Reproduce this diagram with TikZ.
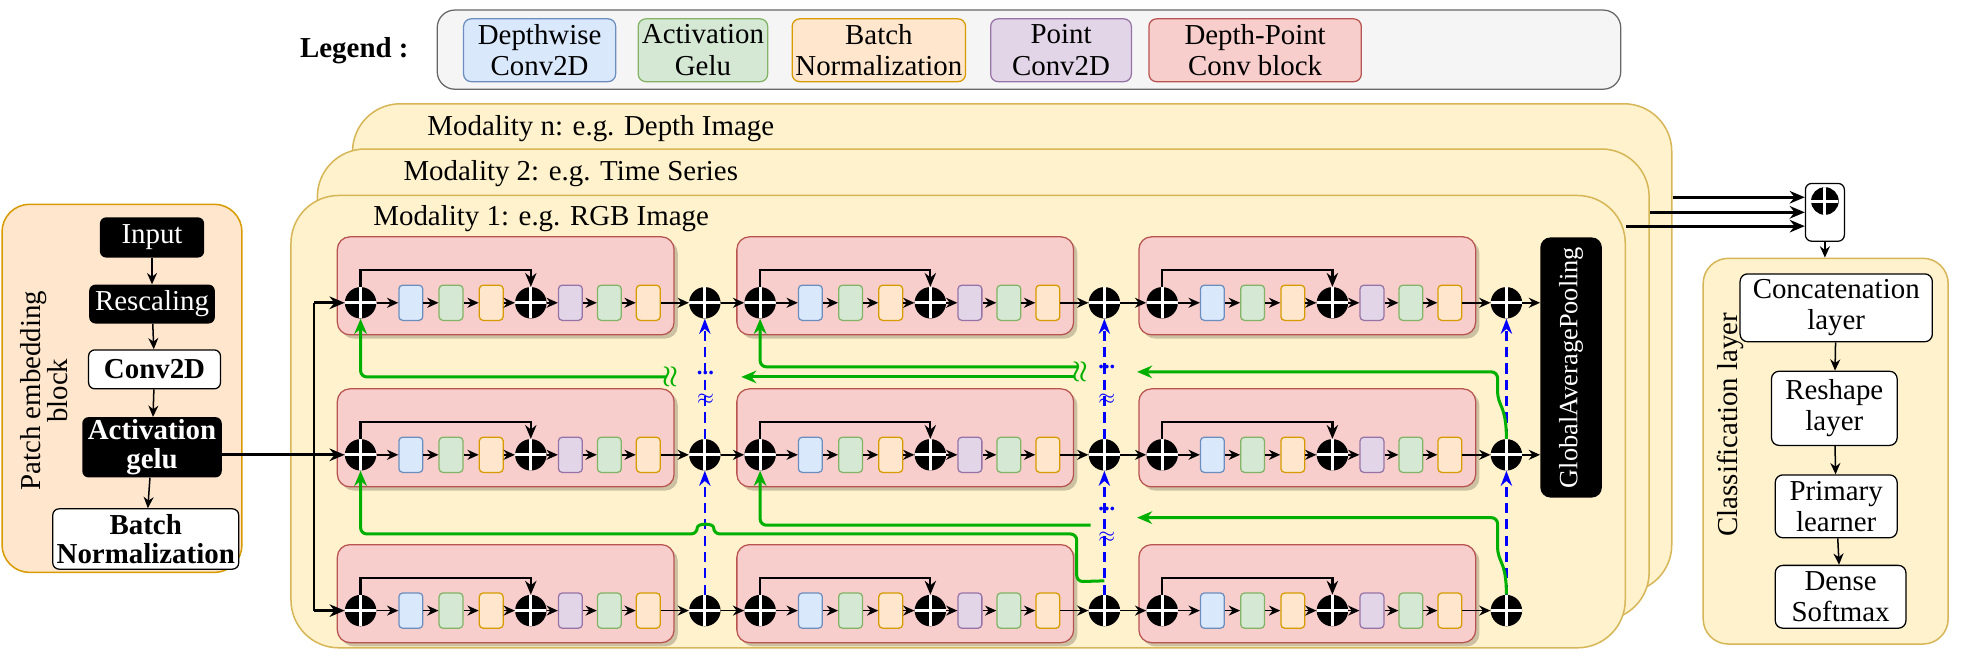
\documentclass[tikz,border=0pt]{standalone}
\usepackage{fontspec}
\setmainfont{Liberation Serif}
\usetikzlibrary{positioning,arrows.meta,shadows}

\definecolor{dwfill}{HTML}{DAE8FC}\definecolor{dwline}{HTML}{6C8EBF}
\definecolor{gefill}{HTML}{D5E8D4}\definecolor{geline}{HTML}{82B366}
\definecolor{bnfill}{HTML}{FFE6CC}\definecolor{bnline}{HTML}{D79B00}
\definecolor{pwfill}{HTML}{E1D5E7}\definecolor{pwline}{HTML}{9673A6}
\definecolor{dpfill}{HTML}{F8CECC}\definecolor{dpline}{HTML}{B85450}
\definecolor{modfill}{HTML}{FFF2CC}\definecolor{modline}{HTML}{D6B656}
\definecolor{legfill}{HTML}{F5F5F5}\definecolor{legline}{HTML}{666666}
\definecolor{skipgreen}{HTML}{00B000}

\begin{document}
\begin{tikzpicture}[%
    x=1pt, y=-1pt,               % pixel-like units, y grows downwards
    >={Stealth[length=9pt,width=8pt]},
    node distance=32pt,
    ]
\useasboundingbox (0,0) rectangle (1568,522);
% -------------------------------------------------
% Box styles
\tikzset{
  txt/.style={font=\fontsize{23}{25}\selectfont, align=center},
  btxt/.style={font=\bfseries\fontsize{23}{25}\selectfont, align=center},
  lbl/.style={txt, inner sep=0pt, anchor=west},
  % small layer cells inside a Depth-Point Conv block
  cell/.style={draw, rounded corners=3pt, line width=1pt, minimum width=19pt,
    minimum height=28pt, inner sep=0pt, on grid},
  dw/.style={cell, fill=dwfill, draw=dwline},
  ge/.style={cell, fill=gefill, draw=geline},
  bn/.style={cell, fill=bnfill, draw=bnline},
  pw/.style={cell, fill=pwfill, draw=pwline},
  adder/.style={circle, fill=black, minimum size=25pt, inner sep=0pt, on grid,
    path picture={\draw[white, line width=2.4pt]
      (path picture bounding box.north) -- (path picture bounding box.south)
      (path picture bounding box.west) -- (path picture bounding box.east);}},
  dpblock/.style={draw=dpline, fill=dpfill, line width=1pt, rounded corners=10pt,
    minimum width=268pt, minimum height=78pt, anchor=north west,
    drop shadow={shadow xshift=3pt, shadow yshift=-3pt, fill=black, opacity=0.2}},
  modal/.style={draw=modline, fill=modfill, line width=1.2pt, rounded corners=38pt,
    anchor=north west},
  pframe/.style={draw=bnline, fill=bnfill, line width=1.2pt, rounded corners=22pt,
    anchor=north west},
  legbox/.style={txt, rounded corners=6pt, line width=1pt, minimum height=50pt,
    inner sep=1pt, on grid},
  blk/.style={txt, fill=black, text=white, rounded corners=5pt, inner sep=0pt, on grid},
  wht/.style={btxt, draw, fill=white, rounded corners=5pt, line width=1pt,
    inner sep=0pt, on grid},
  layer/.style={txt, draw, fill=white, rounded corners=6pt, line width=1pt,
    inner sep=0pt, on grid},
  % Connector line styles
  arr/.style={->, line width=1.2pt},
  jump/.style={->, line width=1.8pt, >={Stealth[length=11pt,width=9pt]}},
  main/.style={line width=2.2pt, >={Stealth[length=12pt,width=10pt]}},
  gr/.style={->, draw=skipgreen, line width=2.4pt, rounded corners=5pt,
    >={Stealth[length=12pt,width=10pt]}},
  bl/.style={->, draw=blue, line width=2pt, dash pattern=on 8pt off 5pt,
    >={Stealth[length=12pt,width=9pt]}},
  brk/.style={text=blue, font=\bfseries\fontsize{18}{18}\selectfont, inner sep=0pt},
  gbrk/.style={text=skipgreen, font=\boldmath\fontsize{20}{20}\selectfont,
    inner sep=0pt, rotate=90},
}
% -------------------------------------------------
% Legend
\node[draw=legline, fill=legfill, rounded corners=14pt, line width=1pt,
  minimum width=942pt, minimum height=63pt] (leg) at (819,39.5) {};
\node[btxt] (legt) at (282,40) {Legend :};
\node[legbox, fill=dwfill, draw=dwline, minimum width=121pt] (l1) at (429.5,40) {Depthwise\\Conv2D};
\node[legbox, fill=gefill, draw=geline, minimum width=103pt, right=130pt of l1] (l2) {Activation\\Gelu};
\node[legbox, fill=bnfill, draw=bnline, minimum width=138pt, right=140pt of l2] (l3) {Batch\\Normalization};
\node[legbox, fill=pwfill, draw=pwline, minimum width=112pt, right=145pt of l3] (l4) {Point\\Conv2D};
\node[legbox, fill=dpfill, draw=dpline, minimum width=169pt, right=154.5pt of l4] (l5) {Depth-Point\\Conv block};

% -------------------------------------------------
% Patch embedding block
\node[pframe, minimum width=191pt, minimum height=293pt] (patch) at (1,162) {};
\node[txt, rotate=90, font=\fontsize{23}{22}\selectfont] (patcht) at (35,311) {Patch embedding\\block};
\node[blk, minimum width=83pt, minimum height=32pt] (inp) at (121,189) {Input};
\node[blk, minimum width=100pt, minimum height=31pt, below=53pt of inp] (resc) {Rescaling};
\node[wht, minimum width=105pt, minimum height=31pt, below=52pt of resc, xshift=2pt] (conv) {Conv2D};
\node[blk, font=\bfseries\fontsize{23}{23}\selectfont, minimum width=111pt,
  minimum height=48pt, below=62pt of conv, xshift=-2pt] (act) {Activation\\gelu};
\node[wht, font=\bfseries\fontsize{23}{23}\selectfont, minimum width=148pt,
  minimum height=48pt, below=73pt of act, xshift=-5pt] (bnorm) {Batch\\Normalization};
\draw[arr] (inp) -- (resc);
\draw[arr] (resc) -- (conv);
\draw[arr] (conv) -- (act);
\draw[arr] (act) -- (bnorm);

% -------------------------------------------------
% Modality branches, back to front
\node[modal, minimum width=1050pt, minimum height=389pt] (modn) at (280,82) {};
\node[lbl] at (340,102) {Modality n: e.g. Depth Image};
\node[modal, minimum width=1060pt, minimum height=375pt] (mod2) at (252,118) {};
\node[lbl] at (321,138) {Modality 2: e.g. Time Series};
\node[modal, minimum width=1062pt, minimum height=360pt] (mod1) at (231,155) {};
\node[lbl] at (297,174) {Modality 1: e.g. RGB Image};

% Three rows of three Depth-Point Conv blocks
\foreach \r/\y in {1/241,2/362,3/486}{
  \foreach \b/\x in {1/287,2/605,3/925}{
    \node[dpblock] (k\r\b) at ({\x-19},{\y-53}) {};
    \node[adder] (s\r\b) at (\x,\y) {};
    \node[dw, right=40pt of s\r\b] (d\r\b) {};
    \node[ge, right=32pt of d\r\b] (g\r\b) {};
    \node[bn, right=32pt of g\r\b] (n\r\b) {};
    \node[adder, right=31.5pt of n\r\b] (m\r\b) {};
    \node[pw, right=31.5pt of m\r\b] (p\r\b) {};
    \node[ge, right=31pt of p\r\b] (h\r\b) {};
    \node[bn, right=31pt of h\r\b] (o\r\b) {};
    \node[adder, right=45pt of o\r\b] (e\r\b) {};
    \foreach \u/\v in {s/d,d/g,g/n,n/m,m/p,p/h,h/o,o/e}
      \draw[arr] (\u\r\b) -- (\v\r\b);
    \draw[jump] (s\r\b.north) -- ++(0,-13.5) -| (m\r\b.north);
  }
  \draw[arr] (e\r1) -- (s\r2);
  \draw[arr] (e\r2) -- (s\r3);
}

% Pooling
\node[fill=black, rounded corners=8pt, minimum width=49pt, minimum height=207pt,
  inner sep=0pt] (gap) at (1250.5,292.5) {};
\node[rotate=90, text=white, font=\fontsize{21}{21}\selectfont] (gapt) at (gap) {GlobalAveragePooling};
\draw[arr] (e13) -- (gap.west |- e13);
\draw[arr] (e23) -- (gap.west |- e23);

% Input fan-out
\coordinate (fork) at (250,362);
\draw[main] (act.east |- fork) -- (fork);
\draw[main] (fork |- s11) -- (fork |- s31);
\foreach \r in {1,2,3}
  \draw[main,->] (fork |- s\r1) -- (s\r1);

% Blue dashed links between rows
\foreach \c in {1,2,3}{
  \draw[bl] (e3\c.north) -- (e2\c.south);
  \draw[bl] (e2\c.north) -- (e1\c.south);
}
\node[brk] at (561.5,297) {...};
\node[brk] at (561.5,318) {$\approx$};
\node[brk] at (881,292) {...};
\node[brk] at (881,318) {$\approx$};
\node[brk] at (881,405) {...};
\node[brk] at (881,428) {$\approx$};

% Green skip links, row 2 -> row 1
\coordinate (g12a) at (905,296);
\coordinate (g12b) at (858,292);
\coordinate (g12c) at (855,300);
\coordinate (g12d) at (590,300);
\coordinate (g12e) at (530,300);
\draw[gr] (e23.north) .. controls (1199,322) and (1192,324) .. (1192,306) -- (1192,296) -- (g12a);
\draw[gr] (g12b) -| (s12.south);
\draw[gr] (g12c) -- (g12d);
\draw[gr] (g12e) -| (s11.south);
\node[gbrk] at (534,300) {$\approx$};
\node[gbrk] at (860,296) {$\approx$};

% Green skip links, row 3 -> row 2
\coordinate (g23a) at (905,412);
\coordinate (g23b) at (868,418);
\draw[gr] (e33.north) .. controls (1199,446) and (1192,448) .. (1192,430) -- (1192,412) -- (g23a);
\draw[gr] (g23b) -| (s22.south);
\draw[gr] ([yshift=11pt]e32.north) -- (857,463) -- (857,425) -- (568,425)
  .. controls (568,416.3) and (555,416.3) .. (555,425) -| (s21.south);

% -------------------------------------------------
% Fusion and classification layer
\node[draw, fill=white, rounded corners=5pt, line width=1pt, minimum width=31pt,
  minimum height=46pt] (cat) at (1452.5,169) {};
\node[adder, minimum size=22pt] (catsum) at (1452.5,160) {};
\coordinate (c1) at ([yshift=12pt]cat.west);
\coordinate (c2) at (cat.west);
\coordinate (c3) at ([yshift=-11pt]cat.west);
\draw[main,->] (modn.east |- c1) -- (c1);
\draw[main,->] (mod2.east |- c2) -- (c2);
\draw[main,->] (mod1.east |- c3) -- (c3);

\node[modal, rounded corners=20pt, minimum width=195pt, minimum height=307pt] (cls) at (1355,205) {};
\node[txt, rotate=90] (clst) at (1377,338) {Classification layer};
\draw[arr] (cat.south) -- (cat.south |- cls.north);
\node[layer, minimum width=153pt, minimum height=54pt] (ccat) at (1461.5,245) {Concatenation\\layer};
\node[layer, minimum width=100pt, minimum height=59pt, below=80pt of ccat, xshift=-1.5pt] (resh) {Reshape\\layer};
\node[layer, minimum width=97pt, minimum height=50pt, below=78pt of resh, xshift=1.5pt] (prim) {Primary\\learner};
\node[layer, minimum width=104pt, minimum height=50pt, below=72pt of prim, xshift=3.5pt] (dens) {Dense\\Softmax};
\draw[arr] (ccat) -- (resh);
\draw[arr] (resh) -- (prim);
\draw[arr] (prim) -- (dens);

% -------------------------------------------------
\end{tikzpicture}
\end{document}
